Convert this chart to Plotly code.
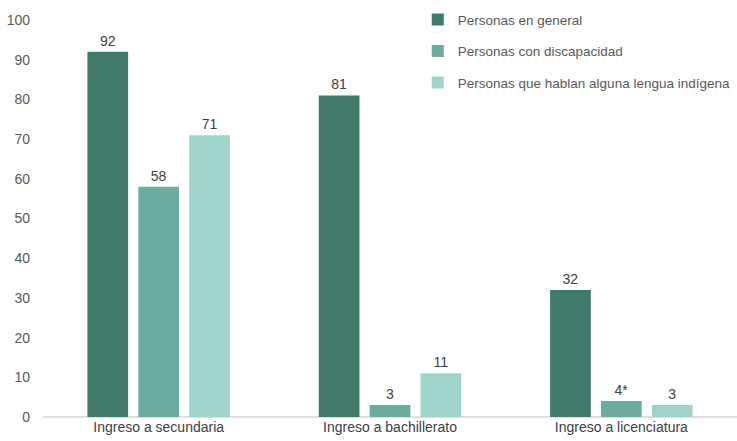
import plotly.graph_objects as go

categories = ["Ingreso a secundaria", "Ingreso a bachillerato", "Ingreso a licenciatura"]
series_names = ["Personas en general", "Personas con discapacidad", "Personas que hablan alguna lengua indígena"]
general = [92, 81, 32]
discapacidad = [58, 3, 4]
indigena = [71, 11, 3]
label_discapacidad = ["58", "3", "4*"]
colors = ["#3F7A6B", "#6BAC9F", "#A0D4CB"]
y_ticks = [0, 10, 20, 30, 40, 50, 60, 70, 80, 90, 100]

values = [general, discapacidad, indigena]
labels = [[str(v) for v in general], label_discapacidad, [str(v) for v in indigena]]

fig = go.Figure()
for i, (name, vals, labs) in enumerate(zip(series_names, values, labels)):
    fig.add_trace(go.Bar(
        x=categories, y=vals, name=name, text=labs,
        textposition="outside", cliponaxis=False,
        textfont=dict(size=14, color="#404040"),
        marker=dict(color=colors[i], line=dict(width=0)),
        legendgroup=f"g{i}",
    ))

fig.update_layout(
    width=737, height=441,
    margin=dict(l=43, r=0, t=20, b=24),
    paper_bgcolor="white", plot_bgcolor="white",
    font=dict(family="Liberation Sans, Arial, sans-serif", size=14, color="#595959"),
    barmode="group", bargap=0.34, bargroupgap=0.2,
    showlegend=True,
    legend=dict(x=0.54, y=1.04, xanchor="left", yanchor="top",
                traceorder="grouped", tracegroupgap=11,
                font=dict(size=13.5, color="#595959"),
                itemwidth=30, bgcolor="rgba(0,0,0,0)"),
    xaxis=dict(showline=False, ticks="", tickfont=dict(size=14, color="#404040")),
    yaxis=dict(range=[0, 100], tickvals=y_ticks, showgrid=False, zeroline=True,
               zerolinecolor="#E0E0E0", zerolinewidth=1.5, ticks="",
               tickfont=dict(size=14, color="#595959"), ticklabelstandoff=12),
)
fig.write_html("out.html")
